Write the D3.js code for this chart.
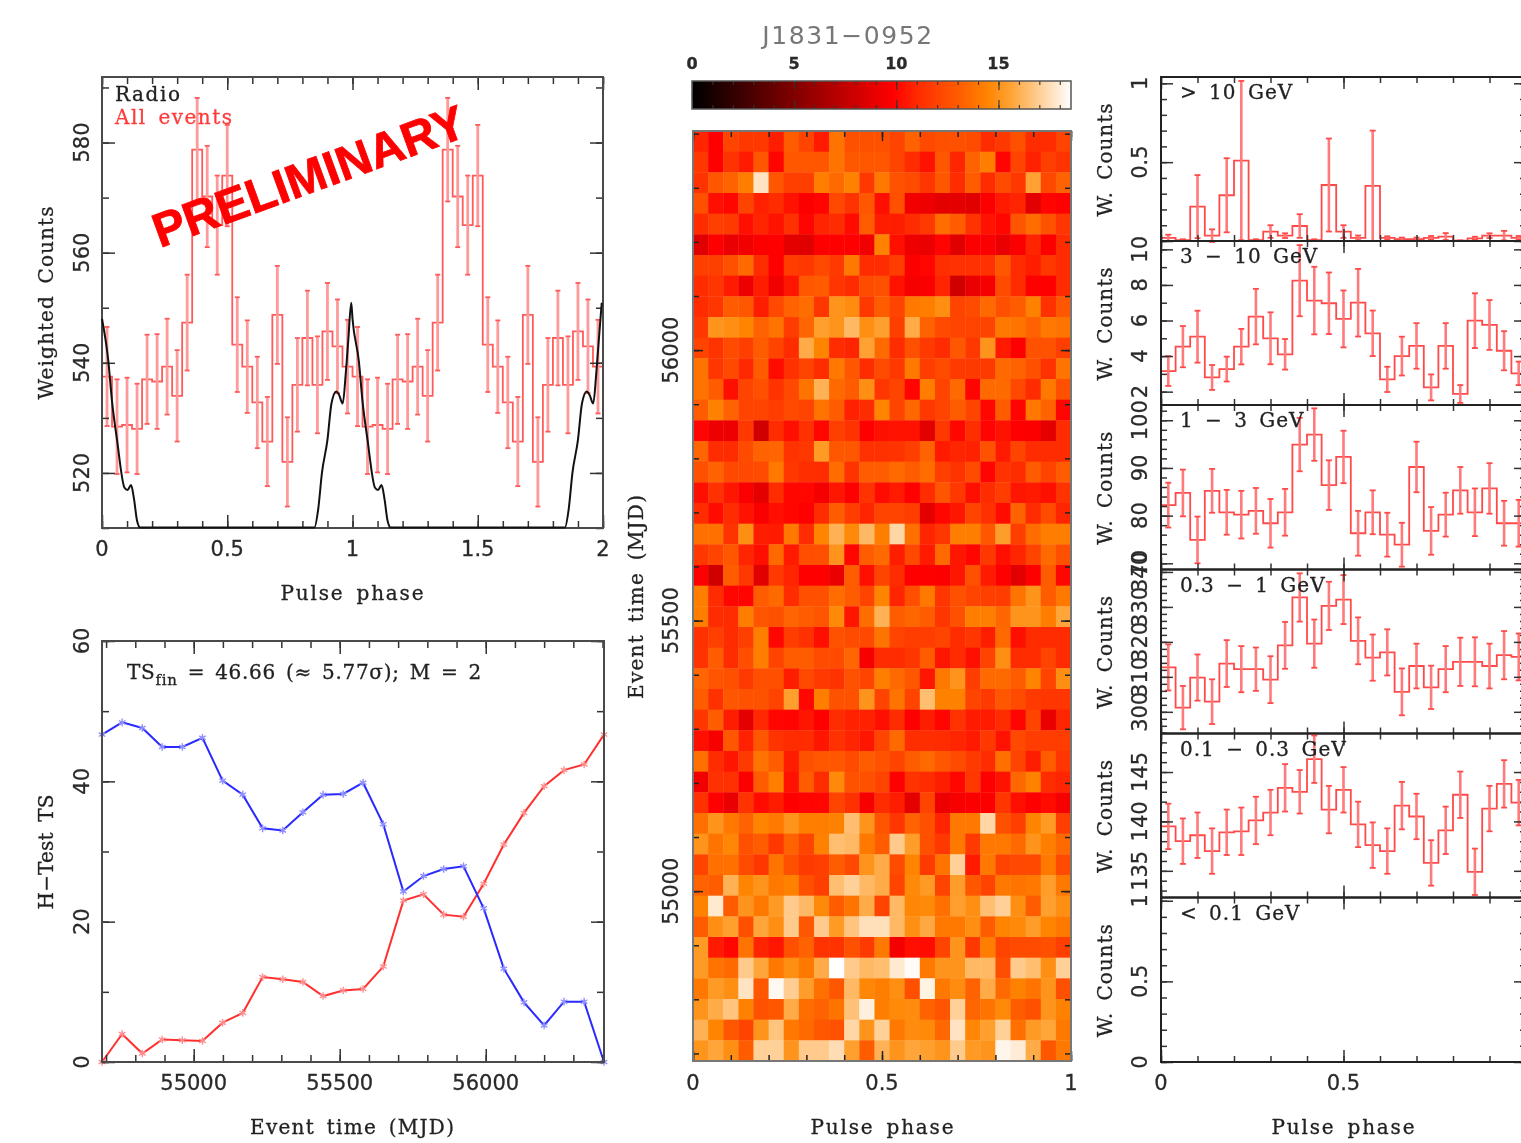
<!DOCTYPE html>
<html><head><meta charset="utf-8">
<script src="https://cdn.jsdelivr.net/npm/d3@7"></script>
<style>
html,body{margin:0;padding:0;background:#fff;overflow:hidden}
svg{display:block;filter:blur(0.65px)}
.lab{font-family:"DejaVu Serif",serif;fill:#222;stroke:#222;stroke-width:.3px;word-spacing:4px}
.num{font-family:"DejaVu Sans",sans-serif;fill:#2a2a2a;stroke:#2a2a2a;stroke-width:.3px}
</style></head><body>
<svg id="c" width="1521" height="1143"></svg>
<script>
// ---------- data ----------
const phaseCounts=[537.5,528.4,528.7,528,537,536.6,539.3,534,547.3,578.7,570.2,565,574,543.3,539.3,532.8,525.7,548.7,522,536,544.5,536,545.7,543,539.3];
const phaseErrors=[9,8.6,8.6,8.2,8.1,8.6,8.7,8.3,8.7,9.4,9.2,9,9.2,8.6,8.4,8.3,8.1,8.9,8.1,8.5,8.6,8.8,8.8,8.5,8.5];
const radioPhase=[0,0.0255,0.04,0.06,0.09,0.102,0.116,0.128,0.14,0.152,0.848,0.863,0.878,0.90,0.916,0.935,0.946,0.961,0.973,0.983,0.995];
const radioLevel=[548,540.2,533,526,517.3,516.9,517.8,515.2,511.3,510.1,510.1,513.4,520,526,532.6,534.8,534.2,532.6,538,544,550.9];
const eventTimes=[54686,54755,54824,54892,54961,55030,55099,55168,55236,55305,55374,55443,55512,55580,55649,55718,55787,55856,55924,55993,56062,56131,56200,56268,56337,56405];
const tsBlue=[46.66,48.4,47.6,44.9,44.9,46.2,40.1,38.1,33.3,33.0,35.6,38.1,38.2,39.8,33.9,24.3,26.5,27.5,27.9,21.9,13.3,8.5,5.2,8.6,8.6,0];
const tsRed=[0,4.0,1.2,3.2,3.1,3.0,5.6,7.0,12.1,11.8,11.4,9.4,10.2,10.4,13.6,23.0,23.9,21.0,20.7,25.4,31.0,35.5,39.3,41.6,42.4,46.66];

const gt10Counts=[.02,.006,.218,.034,.29,.51,.006,.06,.034,.095,.006,.355,.06,.02,.35,.02,.012,.012,.02,.028,.002,.017,.034,.034,.02];
const gt10Errors=[.02,.005,.2,.04,.235,.505,.005,.04,.015,.075,.005,.295,.04,.015,.35,.01,.01,.01,.012,.022,.002,.01,.015,.03,.012];
const e3to10Counts=[3.16,4.53,5.09,2.8,3.27,4.53,6.22,5.0,4.1,8.24,7.12,6.97,6.09,7.0,5.28,2.69,4.0,4.57,2.24,4.57,1.87,5.99,5.75,4.3,3.03];
const e3to10Errors=[.84,1.16,1.46,.7,.7,1.0,1.56,1.46,.86,2.0,1.9,1.73,1.6,1.9,1.28,.71,1.09,1.28,.73,1.28,.5,1.54,1.4,1.1,.66];
const e1to3Counts=[82.2,84.75,74.9,85.2,80.7,80.2,81,78.4,80.7,94.9,97,86.4,92.3,76.3,80.7,76,73.9,90.2,76.8,80.2,85.3,80.7,85.7,78.4,78.4];
const e1to3Errors=[4.7,4.9,4.9,4.6,4.7,5,4.8,5.1,4.9,5.6,5.5,5.2,5.5,4.7,4.6,4.6,4.6,5.3,5,4.6,4.9,5,5.3,4.7,4.9];
const e03to1Counts=[312.7,301.2,309.8,302.9,313.8,312.2,312.2,309.2,319,332.7,319.5,330.3,332.1,320.3,315.5,317,305.7,313.1,307,312.2,314.3,314.3,313.1,316.2,315.7];
const e03to1Errors=[6.6,6.2,6.6,6.4,6.7,6.6,6.2,6.7,6.7,6.9,6.9,6.9,7,6.7,6.6,6.6,6.7,6.4,6.2,6.6,6.9,7,6.4,6.9,6.7];
const e01to03Counts=[139.5,138,138.6,137,138.9,139,140.1,140.9,143.4,143,146.3,141.2,143.2,139.7,137.6,137,141.6,140.5,135.8,139.1,142.7,134.9,141.3,143.8,141.9];
const e01to03Errors=[2.3,2.3,2.3,2.3,2.3,2.4,2.4,2.3,2.4,2.2,2.4,2.4,2.3,2.3,2.3,2.3,2.4,2.3,2.3,2.4,2.35,2.35,2.3,2.4,2.3];
const lt01Counts=[0,0,0,0,0,0,0,0,0,0,0,0,0,0,0,0,0,0,0,0,0,0,0,0,0];
const lt01Errors=[0,0,0,0,0,0,0,0,0,0,0,0,0,0,0,0,0,0,0,0,0,0,0,0,0];

// weighted counts per (time row, phase bin), first row = latest time
const heatValues=[
[10.8,9.8,12,11.5,11.5,10.6,13,12,10.5,13.8,12.5,12.5,12.5,12,13.2,12.2,12.5,12.5,12.3,11,11.5,12.5,11,11,12],
[11.5,9.8,11.3,10.5,12.8,9.9,12.8,12.8,12.8,13.8,12.8,12.8,12.8,12,11,10.3,12.8,10.8,13.2,14.2,9.9,12,10.7,11.8,11.3],
[11.3,12.8,13.2,14.2,17.6,12.8,11.8,11.8,14.2,13.5,14.3,11.5,14,12.6,12.3,11.4,12.8,11,13,11,12.3,11.5,15.5,12.2,13.2],
[12.5,10.2,10,12,10.7,11,10.3,9.7,9.9,12.2,11.3,12.8,10.2,12.5,9.3,9.2,8.8,8.8,8.6,9.7,10.5,10.8,8.7,9.9,9.8],
[11,11.8,11.6,10.2,10.8,10.3,11.2,9.9,10.8,11,10.1,13,10.6,10.6,11,11.6,13.6,13,11.3,10.3,10,12.7,13.6,12.6,11.4],
[8.6,9.8,9,9.3,9.7,9.8,8.8,8.6,9.8,9.8,9.8,9.3,14.3,10.2,9.2,9,9.9,8.6,9.7,9.6,9,9.6,10.8,9.7,11],
[11.8,11.8,12.5,13.5,11,9.8,11.7,11.5,12.2,11.6,14,11,11,11.7,9.7,10,11.1,11.2,11.2,11.2,12.8,11,10.6,11.5,11],
[11,11.4,10.5,9.2,10.6,9.3,10.4,12.8,13,11.4,11,12.3,12.5,10.3,9.5,9.6,10.8,8,9,9.5,12.3,11,9.8,9.8,11],
[11,11.4,13,12.8,10.6,12.2,13.2,13.6,11.4,15,14.7,11.5,13,12,14,14.2,14.8,12,12.3,13.5,12.5,13,14.3,11.2,12.8],
[11.5,15,14.8,14.4,13.2,13.8,11.7,13.3,15.4,15,16.2,14.8,15.4,11.8,15.8,13.2,12.3,12,12,12,14,13.8,13.2,14,13.8],
[12,11.3,12.3,11.8,13,12,11,15.8,14.4,11,10.8,15.5,13.5,11,12.5,11.6,11,12.8,11.5,15,10.5,9.8,12.6,12.6,11.8],
[13.8,11.4,12.2,10.9,13,10.1,11.2,12,11,14,12.8,11,12.3,11.5,14,11.7,12.3,11.6,11.6,11.6,13.5,13.2,12.5,11.2,13.8],
[13.8,13,10.2,12,12.5,11.3,12.2,13.8,16,13.5,13,14.8,11.4,12,9.9,14.2,12,13.5,9.9,13.5,13.5,12.2,11,14,12.5],
[13,14.3,13.2,12,12,11.7,12.3,12,13.8,13,10.7,11,14.4,12,13.4,11.5,12,13,12,10,13,9.9,14,13.2,9.9],
[9.9,9.2,9.2,11.5,8,11,10.2,11.2,10,11.8,11.3,9.8,10.2,10.3,10.3,8.7,11.5,10,11.1,9.9,10.3,9.8,9.7,8.8,11],
[13.3,11,11,12.3,13.2,13.3,11.3,11.5,15.2,12.8,12.8,11.2,11.2,11.3,11.8,13.2,10.5,10.8,10.7,12.6,10.5,12,11,11,11],
[12.5,13.2,12.2,12.2,12.3,14,11.5,11.1,11,13.6,11.3,13,13,13.5,13,13.6,11.8,11.3,12.3,9.9,11.3,11,13,12,13],
[10.2,11.2,10.4,9.6,8.8,11,10,10,9.4,10.4,9.8,11.3,10.1,10.5,9.8,11,12.7,11.5,10.2,11,11.7,10.4,10.5,10.2,11.3],
[11,10.1,11,10.3,9.6,10.2,10,9.8,11,13,11.7,10.8,12,12,11.7,8.8,10,10.4,12,11.2,10.1,13.2,11,12.3,10.8],
[13.7,13.7,11.3,14.8,10.6,10.5,14,11,14.4,16,14.6,16.2,14.2,17.2,13.7,10.8,11.4,14.2,14.2,12.8,15.3,11.8,13.6,14.2,14.2],
[11.5,12,12.8,10.8,10.2,13.5,10.5,12.4,12.5,15,10,13,13.5,10.6,12.2,10.5,13.5,10.4,10,11.5,10.2,10.8,12,13.5,12.5],
[9.8,8,13,11.5,8.6,11.6,10.8,9.8,9.8,9,13,10.2,12,11,9.8,9.8,9.7,10.4,12.5,10.5,9.8,8.7,9.8,13,10],
[14.2,11,10,9.9,13,13.5,11,12.5,12.5,13.6,13,12,14.4,10.8,12.4,14,11.4,12.5,12,11.8,11.7,13.8,15,13,14],
[14.2,11,11,14.2,12.7,12.5,13.3,13,12.7,14.6,10.4,13.6,16,13,13.3,13,11.4,12.5,14.2,14.2,13.3,15,15,14.2,15.6],
[11.2,11.8,11,11.8,14.2,10,11.7,11.2,10.2,12.6,12.3,12.2,13.8,12,11.7,11.7,12,11,11.4,10.6,13.5,10.2,11,11,11],
[11.3,13,11,12.4,14.2,12,13,13,12.3,12.3,13.3,9.5,11,11,11.4,13,10.4,11,10.2,12,14.8,11,11,12,11],
[13.3,12.7,12.5,11.6,12.5,12.5,10.6,12.2,11.6,11.3,12.6,12,14.2,13.5,12.8,10.4,14,15,11.7,13.5,13.5,13,14.4,12,14.8],
[13,11.2,12.8,12.6,12.6,12,15.4,10,14.2,12.6,12.6,15,12,13.8,12,16.4,14.3,14.3,12,11.6,12.8,12.3,11.6,11.4,11.4],
[11.4,13,10.6,8.8,10.9,10,9.9,10.4,9.8,11,10.7,10.7,10.2,11,9.8,10.6,9.9,11.3,10.5,10.5,11,9.9,12,9,10.8],
[10.2,9.5,12.8,10.7,12.8,11.3,11,11,10.4,11.2,10.8,10.4,12,13.5,11.1,11.1,11,10.8,10.5,11.5,10.3,12.2,11.7,11.7,11.7],
[13.7,11,10.4,11.6,13.8,13,10.6,12.5,12.8,12.8,12.3,13,12.6,12,13,13.5,12.8,12.3,11.6,11,13.7,12,10.6,13,11.4],
[9.3,11.2,11.2,9.7,13,14.2,10.3,13,11,14.6,12.6,12.5,12,9.8,11.3,11,10.6,10,11.5,9.8,10.3,13.4,14.3,11,10.8],
[11.2,9.8,9,11.3,10.1,10.6,9.8,9.9,10,12,11.2,9.5,11,10.6,8.8,12,9.2,9.5,9.7,9.7,11.4,10.2,9.8,10.1,9.5],
[13.7,15,14,13.2,14.4,14,15,14.2,14.2,14.3,16.4,15,12.7,11.4,13.2,12.5,10.8,14,14,17.2,12.5,11.8,14.4,15.2,11.8],
[15,13.8,14.5,12.5,13,11.5,13.2,12,14.3,16.4,16.2,14,13,16.8,15.3,12.5,11.5,14,11.6,14,14,13.5,15,14.2,13.5],
[12,13.7,13.7,12.3,11.4,13.8,12.5,11.6,11.8,13,12.2,15,15.8,12.3,14.4,11.6,13.8,17,10.5,14,12,12.2,12.2,14,12.3],
[13.2,13,16,14.4,15,14,14.3,12.5,11.8,16.4,17,16.2,15.8,12,14.6,15.2,12,15.3,12.8,12,14,13.8,14,15.3,14],
[14.3,17.8,13,15,14,15.2,16.8,16.2,14.6,13,13.8,15.8,12,16.2,14.5,14.6,13.7,15.4,14.8,16.4,17,14.8,13,15.4,14.8],
[13,14.8,15.4,12.5,15.6,14.8,16.8,12.8,16.8,15.2,16.6,17.5,17.5,16.2,14.8,15.7,14,14,14.8,13,14.4,14.6,15.3,14.4,14],
[15.2,10.5,10,13.8,10.8,10.4,12.5,13.2,11.3,11.3,12.5,11.6,14,9.4,10.2,10.1,12,15,11.5,14.2,12,12.3,12.3,12.5,11.8],
[15.2,13.8,13.5,16.8,15.6,14,14.8,14,15.8,18.5,16.8,16.2,16.4,17.8,18.4,14,15,15,16.2,16.2,12.4,16.8,16.4,14.8,17],
[14,15.2,14.8,17.6,12.8,18.3,16.9,15.3,13.7,12.8,16.2,14.5,14.2,14.8,12.5,18.1,14,14.7,13.2,15.8,13.5,14.3,13.8,15,12.5],
[15,15.8,16.6,14.3,12.6,12.8,15.8,13.6,13.2,13.8,16.5,18,14.2,14.6,14.7,13.2,12.7,17,13.3,13.8,14.6,13,12.5,15,14.3],
[16,14.4,12.8,12,15,16.6,14,13.5,12.8,12.6,17.2,15,17,14,14.7,14.6,13.4,17.6,14.5,15.4,17,13.7,15.2,15.6,14],
[15,15.6,14.8,13,17,17,15,16.8,16.8,17.4,15.4,13,16,15,15.6,15.4,15,16.8,15.2,15,18.2,17.9,15.8,12.8,14]
];
const colorStops=[0,9.8,11,13,14.4,15.5,18.5];
const colorRange=["#000000","#ff0000","#ff2c00","#ff5c00","#ff8400","#ffa233","#ffffff"];
const energyLabels=["> 10 GeV","3 − 10 GeV","1 − 3 GeV","0.3 − 1 GeV","0.1 − 0.3 GeV","< 0.1 GeV"];

// ---------- helpers ----------
const svg=d3.select("#c");
const FRAME="#4a4a4a";
function multiples(lo,hi,s){const o=[];for(let k=Math.ceil(lo/s-1e-9);k*s<=hi+1e-9;k++)o.push(+(k*s).toFixed(6));return o;}

function frame(g,x,y,o){
  const [x0,x1]=x.domain(),[y0,y1]=y.domain();
  const [px0,px1]=x.range(),[py0,py1]=y.range();
  const add=(axis,tx,ty)=>{const a=g.append("g").attr("transform",`translate(${tx},${ty})`).call(axis);
    a.selectAll("text").remove();a.select(".domain").remove();
    a.selectAll("line").attr("stroke",o.tick||"#333").attr("stroke-width",1.5);return a;};
  const len={maj:o.maj||13,min:o.min||7};
  [d3.axisBottom,d3.axisTop].forEach(A=>{
    const ty=A===d3.axisBottom?Math.max(py0,py1):Math.min(py0,py1);
    add(A(x).tickValues(multiples(x0,x1,o.xMinor)).tickSize(-len.min),0,ty);
    add(A(x).tickValues(multiples(x0,x1,o.xMajor)).tickSize(-len.maj),0,ty);
  });
  [d3.axisLeft,d3.axisRight].forEach(A=>{
    add(A(y).tickValues(multiples(y0,y1,o.yMinor)).tickSize(-len.min),A===d3.axisLeft?px0:px1,0);
    add(A(y).tickValues(multiples(y0,y1,o.yMajor)).tickSize(-len.maj),A===d3.axisLeft?px0:px1,0);
  });
  g.append("rect").attr("x",px0).attr("y",Math.min(py0,py1)).attr("width",px1-px0).attr("height",Math.abs(py1-py0))
    .attr("fill","none").attr("stroke",o.frame||FRAME).attr("stroke-width",o.fw||2);
  const labelG=g.append("g");
  (o.xLabels||[]).forEach(v=>labelG.append("text").attr("class","num").attr("x",x(v)).attr("y",o.xLabelY)
    .attr("text-anchor","middle").attr("font-size",o.fs||21).text(v));
  (o.yLabels||[]).forEach(v=>labelG.append("text").attr("class","num")
    .attr("transform",`translate(${o.yLabelX},${y(v)}) rotate(-90)`)
    .attr("text-anchor","middle").attr("font-size",o.fs||21).text(v));
}
function hLabel(t,x,y,len){svg.append("text").attr("class","lab").attr("x",x).attr("y",y).attr("text-anchor","middle").attr("font-size",20).attr("textLength",len).attr("lengthAdjust","spacing").text(t);}
function vLabel(t,x,y,len){svg.append("text").attr("class","lab").attr("transform",`translate(${x},${y}) rotate(-90)`).attr("text-anchor","middle").attr("font-size",20).attr("textLength",len).attr("lengthAdjust","spacing").text(t);}

function histogram(g,x,y,vals,errs,edgeStart,binW,capHalf,lineCol,errCol,errW){
  const pts=vals.map((v,i)=>[edgeStart+i*binW,v]);pts.push([edgeStart+vals.length*binW,vals[vals.length-1]]);
  const line=d3.line().curve(d3.curveStepAfter).x(d=>x(d[0])).y(d=>y(d[1]));
  g.append("path").attr("d",line(pts)).attr("fill","none").attr("stroke",lineCol).attr("stroke-width",1.8);
  const b=g.append("g").selectAll("g").data(vals.map((v,i)=>({c:edgeStart+(i+.5)*binW,v,e:errs[i]}))).join("g");
  b.append("line").attr("x1",d=>x(d.c)).attr("x2",d=>x(d.c)).attr("y1",d=>y(d.v-d.e)).attr("y2",d=>y(d.v+d.e))
    .attr("stroke",errCol).attr("stroke-width",errW);
  [-1,1].forEach(s=>b.append("line").attr("x1",d=>x(d.c)-capHalf).attr("x2",d=>x(d.c)+capHalf)
    .attr("y1",d=>y(d.v+s*d.e)).attr("y2",d=>y(d.v+s*d.e)).attr("stroke",lineCol).attr("stroke-width",1.8));
}

// ---------- top-left: pulse profile ----------
{
  const x=d3.scaleLinear().domain([0,2]).range([102,603]);
  const y=d3.scaleLinear().domain([510,591.9]).range([528,77]);
  const g=svg.append("g");
  const radioData=radioPhase.map((p,i)=>[p,radioLevel[i]]).concat(radioPhase.map((p,i)=>[p+1,radioLevel[i]]));
  const counts2=phaseCounts.concat(phaseCounts),errs2=phaseErrors.concat(phaseErrors);
  histogram(g,x,y,counts2,errs2,0,0.04,2.5,"#ff5a5a","#ff9a9a",2.8);
  frame(g,x,y,{xMinor:.1,xMajor:.5,yMinor:10,yMajor:20,xLabels:[0,.5,1,1.5,2],yLabels:[520,540,560,580],xLabelY:556,yLabelX:89});
  g.append("path").attr("d",d3.line().curve(d3.curveMonotoneX).x(d=>x(d[0])).y(d=>y(d[1]))(radioData))
    .attr("fill","none").attr("stroke","#111").attr("stroke-width",2);
  g.append("text").attr("class","lab").attr("x",115).attr("y",101).attr("font-size",20).attr("textLength",65).text("Radio");
  g.append("text").attr("class","lab").attr("x",115).attr("y",124).attr("font-size",20).attr("textLength",117).style("fill","#ff3b3b").style("stroke","#ff3b3b").text("All events");
  hLabel("Pulse phase",352,600,143);
  vLabel("Weighted Counts",53,303,193);
  g.append("text").attr("transform","translate(160,248) rotate(-20)").attr("font-family","'Liberation Sans',Arial,sans-serif")
    .attr("font-weight","bold").attr("font-size",48).attr("fill","#ff0000").attr("stroke","#ff0000").attr("stroke-width",.8).text("PRELIMINARY");
}

// ---------- bottom-left: H-test ----------
{
  const x=d3.scaleLinear().domain([54686,56405]).range([102,604]);
  const y=d3.scaleLinear().domain([0,60]).range([1062,641]);
  const g=svg.append("g");
  [[tsRed,"#ff3030","#ff9090"],[tsBlue,"#2a2aff","#9090ff"]].forEach(([vals,col,light])=>{
    const data=eventTimes.map((t,i)=>[t,vals[i]]);
    g.append("path").attr("d",d3.line().x(d=>x(d[0])).y(d=>y(d[1]))(data)).attr("fill","none").attr("stroke",col).attr("stroke-width",2);
    const sym=d3.symbol().type(d3.symbolAsterisk).size(40);
    g.append("g").selectAll("path").data(data).join("path").attr("d",sym)
      .attr("transform",d=>`translate(${x(d[0])},${y(d[1])})`).attr("fill","none").attr("stroke",light).attr("stroke-width",1.4);
  });
  frame(g,x,y,{xMinor:100,xMajor:500,yMinor:10,yMajor:20,xLabels:[55000,55500,56000],yLabels:[0,20,40,60],xLabelY:1090,yLabelX:89});
  hLabel("Event time (MJD)",352,1134,204);
  vLabel("H−Test TS",53,852,115);
  const t=g.append("text").attr("class","lab").attr("x",127).attr("y",679).attr("font-size",20).attr("letter-spacing","0.7px").style("word-spacing","3px");
  t.append("tspan").text("TS");
  t.append("tspan").attr("dy",6).attr("font-size",15).text("fin");
  t.append("tspan").attr("dy",-6).text(" = 46.66 (≈ 5.77σ); M = 2");
}

// ---------- middle: heat map ----------
{
  const color=d3.scaleLinear().domain(colorStops).range(colorRange);
  const x=d3.scaleLinear().domain([0,1]).range([693,1071]);
  const yT=d3.scaleLinear().domain([54686,56405]).range([1061,131]);
  const xBand=d3.scaleBand().domain(d3.range(heatValues[0].length)).range([693,1071]);
  const yBand=d3.scaleBand().domain(d3.range(heatValues.length)).range([131,1061]);
  const g=svg.append("g");
  g.append("g").selectAll("g").data(heatValues).join("g").attr("transform",(r,i)=>`translate(0,${yBand(i)})`)
    .selectAll("rect").data(r=>r).join("rect").attr("x",(v,j)=>xBand(j)).attr("width",xBand.bandwidth()+.4)
    .attr("height",yBand.bandwidth()+.4).attr("fill",v=>color(v));
  frame(g,x,yT,{xMinor:.1,xMajor:.5,yMinor:100,yMajor:500,xLabels:[0,.5,1],xLabelY:1090,tick:"#222",maj:10,min:6,yLabels:[55000,55500,56000],yLabelX:678,frame:"#777"});
  hLabel("Pulse phase",882,1134,143);
  vLabel("Event time (MJD)",643,597,204);

  // colour bar
  const cx=d3.scaleLinear().domain([0,18.55]).range([692,1071]);
  const cells=d3.range(0,18.55,0.1);
  g.append("g").selectAll("rect").data(cells).join("rect").attr("x",d=>cx(d)).attr("y",81)
    .attr("width",cx(0.1)-cx(0)+1.5).attr("height",28).attr("fill",d=>color(d));
  const cb=g.append("g");
  [[d3.axisBottom,109],[d3.axisTop,81]].forEach(([A,ty])=>{
    [[1,4],[5,9]].forEach(([s,l])=>{
      const a=cb.append("g").attr("transform",`translate(0,${ty})`).call(A(cx).tickValues(multiples(0,18.5,s)).tickSize(-l));
      a.select(".domain").remove();a.selectAll("text").remove();a.selectAll("line").attr("stroke","#333").attr("stroke-width",1.1);
    });
  });
  cb.append("rect").attr("x",692).attr("y",81).attr("width",379).attr("height",28).attr("fill","none").attr("stroke","#555").attr("stroke-width",1.5);
  [0,5,10,15].forEach(v=>cb.append("text").attr("class","num").attr("x",cx(v)).attr("y",69).attr("text-anchor","middle")
    .attr("font-size",16).attr("font-weight","bold").text(v));
  svg.append("text").attr("x",848).attr("y",44).attr("text-anchor","middle").attr("font-family","'DejaVu Sans',sans-serif")
    .attr("font-size",25).attr("letter-spacing","1.6px").attr("fill","#777").text("J1831−0952");
}

// ---------- right column: energy bands ----------
{
  const panels=[
   {vals:gt10Counts,errs:gt10Errors,top:77,bot:241,dom:[0,1.04],minor:.1,major:.5,labels:[.5,1]},
   {vals:e3to10Counts,errs:e3to10Errors,top:241,bot:405,dom:[1.25,10.47],minor:1,major:2,labels:[2,4,6,8,10]},
   {vals:e1to3Counts,errs:e1to3Errors,top:405,bot:569.5,dom:[68.7,103.2],minor:2,major:10,labels:[70,80,90,100]},
   {vals:e03to1Counts,errs:e03to1Errors,top:569.5,bot:733.5,dom:[293.8,340.7],minor:2,major:10,labels:[300,310,320,330,340]},
   {vals:e01to03Counts,errs:e01to03Errors,top:733.5,bot:897.5,dom:[132.3,148.9],minor:1,major:5,labels:[135,140,145]},
   {vals:lt01Counts,errs:lt01Errors,top:897.5,bot:1062,dom:[0,1.02],minor:.1,major:.5,labels:[0,.5,1]}
  ];
  const x=d3.scaleLinear().domain([0,1]).range([1161,1526]);
  panels.forEach((p,i)=>{
    const y=d3.scaleLinear().domain(p.dom).range([p.bot,p.top]);
    const g=svg.append("g");
    if(i<5) histogram(g,x,y,p.vals,p.errs,0,0.04,3,"#ff4a4a","#ff7a7a",2.6);
    else g.append("line").attr("x1",x(0)).attr("x2",x(1)).attr("y1",y(0)).attr("y2",y(0)).attr("stroke","#c02020").attr("stroke-width",1.6);
    frame(g,x,y,{xMinor:.1,xMajor:.5,yMinor:p.minor,yMajor:p.major,xLabels:i===5?[0,.5]:[],xLabelY:1090,yLabels:p.labels,yLabelX:1147,frame:"#222",fw:2,tick:"#333",maj:12,min:6});
    g.append("text").attr("class","lab").attr("x",1180).attr("y",p.top+22).attr("font-size",20).attr("letter-spacing","1px").text(energyLabels[i]);
    vLabel("W. Counts",1112,(p.top+p.bot)/2+1,113);
  });
  hLabel("Pulse phase",1343,1134,143);
}
</script>
</body></html>
